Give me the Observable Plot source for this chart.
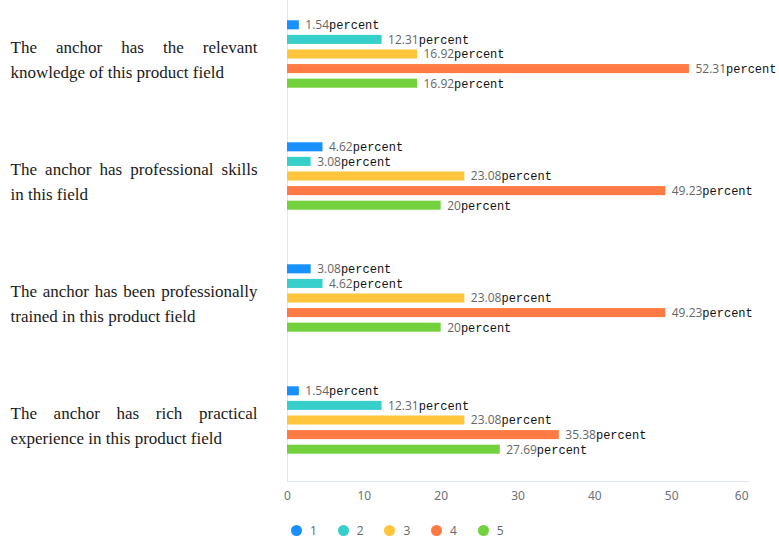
<!DOCTYPE html>
<html>
<head>
<meta charset="utf-8">
<script src="https://cdn.jsdelivr.net/npm/d3@7"></script>
<script src="https://cdn.jsdelivr.net/npm/@observablehq/plot@0.6"></script>
<style>
  html, body { margin: 0; padding: 0; background: #fff; }
  #legend { display: flex; height: 27px; box-sizing: border-box; padding-top: 14px; padding-left: 291px;
            font-family: "Open Sans", "DejaVu Sans", sans-serif; font-size: 12px; color: #666; line-height: 12px; }
  #legend .item { display: flex; align-items: center; width: 46.7px; }
  #legend .dot { width: 11px; height: 11px; border-radius: 50%; margin-right: 8px; }
</style>
</head>
<body>
<div id="chart"></div>
<div id="legend"></div>
<script>
const categories = [
  "The anchor has the relevant\nknowledge of this product field",
  "The anchor has professional skills\nin this field",
  "The anchor has been professionally\ntrained in this product field",
  "The anchor has rich practical\nexperience in this product field"
];
const series = ["1", "2", "3", "4", "5"];
const colors = ["#1890FF", "#36CFC9", "#FFC53D", "#FF7A45", "#73D13D"];
const s1 = [1.54, 4.62, 3.08, 1.54];
const s2 = [12.31, 3.08, 4.62, 12.31];
const s3 = [16.92, 23.08, 23.08, 23.08];
const s4 = [52.31, 49.23, 49.23, 35.38];
const s5 = [16.92, 20, 20, 27.69];
const xTicks = [0, 10, 20, 30, 40, 50, 60];
const unit = "percent";

const values = [s1, s2, s3, s4, s5];
const data = categories.flatMap((c, i) =>
  series.map((s, j) => ({category: c, series: s, value: values[j][i]})));

const chart = Plot.plot({
  width: 779,
  height: 510,
  marginLeft: 287,
  marginRight: 31,
  marginTop: -7,
  marginBottom: 29,
  x: {domain: [0, 60], axis: null},
  y: {domain: series, axis: null, paddingInner: 0.38, paddingOuter: 1.87, round: false},
  fy: {domain: categories, axis: null, paddingInner: 0, paddingOuter: 0, round: false},
  color: {domain: series, range: colors},
  marks: [
    Plot.ruleX([0], {stroke: "#e0e6f1"}),
    Plot.frame({anchor: "bottom", facetAnchor: "bottom", stroke: "#e0e6f1"}),
    Plot.barX(data, {x: "value", y: "series", fy: "category", fill: "series"}),
    Plot.text(data, {x: "value", y: "series", fy: "category", text: d => `${d.value}${unit}`,
      textAnchor: "start", dx: 6, fontSize: 12, className: "vlabel"}),
    Plot.text(categories, {fy: d => d, text: d => d, frameAnchor: "left", textAnchor: "start",
      dx: -277, dy: 3, lineHeight: 1.47, fontSize: 17, fontFamily: "Liberation Serif",
      fill: "#1a1a1a", className: "catlabel"}),
    Plot.axisX(xTicks.slice(0, -1), {tickSize: 0, tickPadding: 10, fontSize: 12, fill: "#6e7079", label: null}),
    Plot.axisX(xTicks.slice(-1), {tickSize: 0, tickPadding: 10, fontSize: 12, fill: "#6e7079", label: null, textAnchor: "end"})
  ]
});
document.getElementById("chart").append(chart);

// value labels: number in sans, unit in monospace
d3.select(chart).selectAll(".vlabel text").each(function() {
  const t = this.textContent;
  const num = t.replace(unit, "");
  const sel = d3.select(this).text(null);
  sel.append("tspan").attr("fill", "#666").attr("font-size", 12)
     .attr("font-family", "'Open Sans', 'DejaVu Sans', sans-serif").text(num);
  sel.append("tspan").attr("fill", "#111").attr("font-size", 12)
     .attr("font-family", "'Liberation Mono', monospace").text(unit);
});

// justify first line of category labels
const W = 247;
d3.select(chart).selectAll(".catlabel text").each(function() {
  const first = this.querySelector("tspan");
  if (!first) return;
  const len = first.getComputedTextLength();
  const spaces = (first.textContent.match(/ /g) || []).length;
  if (spaces && len < W) first.setAttribute("word-spacing", (W - len) / spaces);
});

// legend
const legend = d3.select("#legend");
series.forEach((s, i) => {
  const item = legend.append("div").attr("class", "item");
  item.append("div").attr("class", "dot").style("background", colors[i]);
  item.append("span").text(s);
});
</script>
</body>
</html>
